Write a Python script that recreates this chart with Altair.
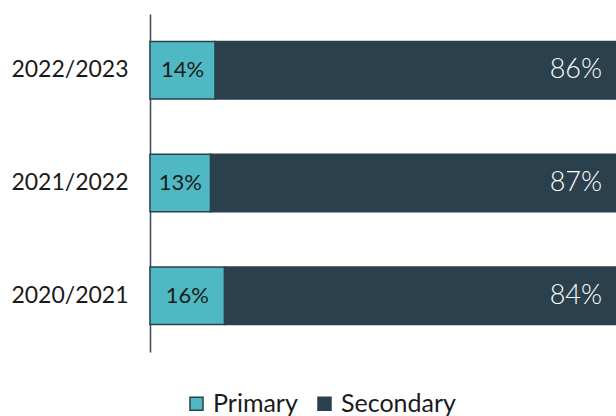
import altair as alt
import pandas as pd

years = ["2022/2023", "2021/2022", "2020/2021"]
primary = [14, 13, 16]
secondary = [86, 87, 84]
series = ["Primary", "Secondary"]
colors = ["#4FB9C3", "#2B404D"]

rows = []
for y, p, s in zip(years, primary, secondary):
    rows.append({"year": y, "series": "Primary", "value": p, "ord": 0})
    rows.append({"year": y, "series": "Secondary", "value": s, "ord": 1})
df = pd.DataFrame(rows)

FONT = "Lato"

base = alt.Chart(df).transform_stack(
    stack="value", groupby=["year"], as_=["x0", "x1"],
    sort=[alt.SortField("ord", order="ascending")]
).transform_calculate(
    mid="(datum.x0 + datum.x1) / 2",
    label="datum.value + '%'"
)

yenc = alt.Y("year:N", sort=years, title=None,
             scale=alt.Scale(paddingInner=0.49, paddingOuter=0.245),
             axis=alt.Axis(ticks=False, labelPadding=22, labelFontSize=23,
                           labelFont=FONT, labelColor="#1a1a1a",
                           domainColor="#3a4a55", domainWidth=1.5))
xscale = alt.Scale(domain=[0, 100], nice=False, zero=True)

bars = base.mark_bar(stroke="#2B404D", strokeWidth=1.5).encode(
    x=alt.X("x0:Q", scale=xscale, axis=None),
    x2="x1:Q",
    y=yenc,
    color=alt.Color("series:N", scale=alt.Scale(domain=series, range=colors),
                    legend=alt.Legend(title=None, orient="none", direction="horizontal",
                                      legendX=34, legendY=377,
                                      symbolType="square", symbolSize=170,
                                      symbolStrokeColor="#2B404D", symbolStrokeWidth=1.5,
                                      labelFontSize=25, labelFont=FONT, labelColor="#1a1a1a",
                                      columnPadding=14, labelOffset=4)),
    order=alt.Order("ord:Q")
)

prim_text = base.transform_filter("datum.series == 'Primary'").mark_text(
    fontSize=22, font=FONT, color="#1a1a1a", align="center", baseline="middle"
).encode(
    x=alt.X("mid:Q", scale=xscale),
    y=alt.Y("year:N", sort=years),
    text="label:N"
)

sec_text = base.transform_filter("datum.series == 'Secondary'").mark_text(
    fontSize=27, font=FONT, fontWeight=300, color="#ffffff", align="right",
    baseline="middle", dx=-14
).encode(
    x=alt.X("x1:Q", scale=xscale),
    y=alt.Y("year:N", sort=years),
    text="label:N"
)

chart = alt.layer(bars, prim_text, sec_text).properties(
    width=466, height=338,
    background="white",
    autosize=alt.AutoSizeParams(type="none"),
    padding={"left": 150, "top": 14, "right": 0, "bottom": 64}
).configure_view(stroke=None)

chart.save("out.html", embed_options={"renderer": "svg", "actions": False})
